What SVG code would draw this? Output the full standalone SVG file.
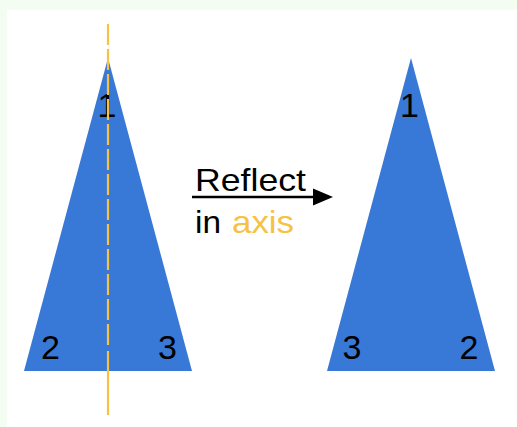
<svg xmlns="http://www.w3.org/2000/svg" width="517" height="427" viewBox="0 0 517 427">
  <style>
    .tri { fill: #3878d6; }
    .num { font-family: "Liberation Sans", Arial, sans-serif; font-size: 34px; fill: #000; text-anchor: middle; }
    .lbl { font-family: "Liberation Sans", Arial, sans-serif; font-size: 32px; fill: #000; }
    .axis { fill: #f6c244; }
    .axline { stroke: #f6c244; stroke-width: 2.2; fill: none; }
  </style>
  <rect x="0" y="0" width="517" height="427" fill="#f3fdf2"/>
  <rect x="7" y="10" width="510" height="417" fill="#ffffff"/>
  <g id="left-triangle">
    <polygon class="tri" points="108,58 24,371 192,371"/>
    <text class="num" x="107" y="117">1</text>
    <text class="num" x="50.5" y="359">2</text>
    <text class="num" x="167.5" y="359">3</text>
  </g>
  <g id="axis-line">
    <line class="axline" x1="108" y1="24" x2="108" y2="345" stroke-dasharray="21 4"/>
    <line class="axline" x1="108" y1="351" x2="108" y2="415"/>
  </g>
  <g id="right-triangle">
    <polygon class="tri" points="411,58 327,371 495,371"/>
    <text class="num" x="409.5" y="117">1</text>
    <text class="num" x="352" y="359">3</text>
    <text class="num" x="469" y="359">2</text>
  </g>
  <g id="connectors">
    <line x1="192" y1="197" x2="315" y2="197" stroke="#000" stroke-width="2.5"/>
    <polygon points="313,188.5 333,197 313,205.5" fill="#000"/>
  </g>
  <g id="label">
    <text class="lbl" x="195" y="191" textLength="111" lengthAdjust="spacingAndGlyphs">Reflect</text>
    <text class="lbl" x="195" y="233" textLength="26" lengthAdjust="spacingAndGlyphs">in</text>
    <text class="lbl axis" x="232" y="233" textLength="62" lengthAdjust="spacingAndGlyphs">axis</text>
  </g>
</svg>
